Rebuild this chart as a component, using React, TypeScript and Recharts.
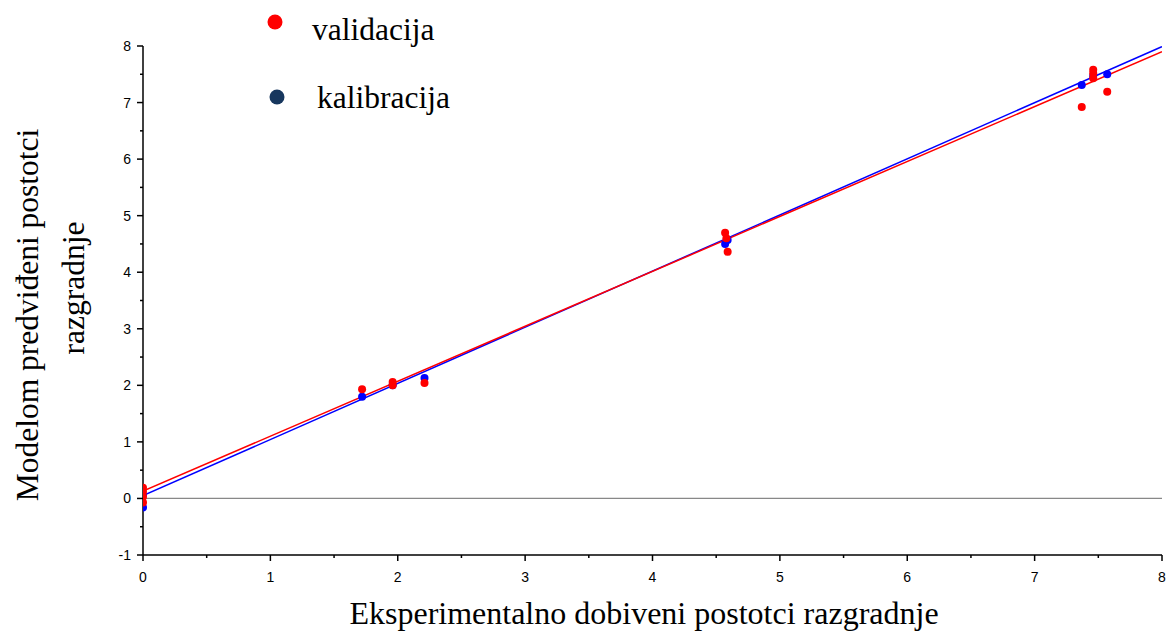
import React from 'react';
import { ComposedChart, Scatter, XAxis, YAxis, ReferenceLine } from 'recharts';

const validacija = [
  { x: 0, y: 0.19 }, { x: 0, y: 0.12 }, { x: 0, y: 0.03 }, { x: 0, y: -0.07 },
  { x: 1.72, y: 1.93 }, { x: 1.96, y: 2.06 }, { x: 1.96, y: 2.0 },
  { x: 2.21, y: 2.04 }, { x: 4.57, y: 4.7 }, { x: 4.58, y: 4.6 },
  { x: 4.59, y: 4.36 }, { x: 7.37, y: 6.92 }, { x: 7.46, y: 7.58 },
  { x: 7.46, y: 7.52 }, { x: 7.46, y: 7.43 }, { x: 7.57, y: 7.19 },
];
const kalibracija = [
  { x: 0, y: -0.16 }, { x: 0, y: 0.06 }, { x: 1.72, y: 1.8 },
  { x: 1.96, y: 2.0 }, { x: 2.21, y: 2.13 }, { x: 4.57, y: 4.5 },
  { x: 4.59, y: 4.57 }, { x: 7.37, y: 7.31 }, { x: 7.46, y: 7.47 },
  { x: 7.57, y: 7.5 },
];
const validacijaLine = [{ x: 0, y: 0.13 }, { x: 8, y: 7.9 }];
const kalibracijaLine = [{ x: 0, y: 0.05 }, { x: 8, y: 7.99 }];

const xTicks = [0, 0.5, 1, 1.5, 2, 2.5, 3, 3.5, 4, 4.5, 5, 5.5, 6, 6.5, 7, 7.5, 8];
const yTicks = [-1, -0.5, 0, 0.5, 1, 1.5, 2, 2.5, 3, 3.5, 4, 4.5, 5, 5.5, 6, 6.5, 7, 7.5, 8];

const legendLabels = ['validacija', 'kalibracija'];
const xTitle = 'Eksperimentalno dobiveni postotci razgradnje';
const yTitle = ['Modelom predviđeni postotci', 'razgradnje'];

const tickFont = "'Liberation Sans', Arial, sans-serif";
const serif = "'Liberation Serif', 'Times New Roman', serif";

const XTick = (props: any) => {
  const { x, y, payload } = props;
  const major = Number.isInteger(payload.value);
  return (
    <g>
      <line x1={x} x2={x} y1={y} y2={y + (major ? 6 : 3)} stroke="#000" strokeWidth={1.5} />
      {major && (
        <text x={x} y={y + 27} textAnchor="middle" fontSize={14} fontFamily={tickFont} fill="#000">
          {payload.value}
        </text>
      )}
    </g>
  );
};

const YTick = (props: any) => {
  const { x, y, payload } = props;
  const major = Number.isInteger(payload.value);
  return (
    <g>
      <line x1={x} x2={x - (major ? 6 : 3)} y1={y} y2={y} stroke="#000" strokeWidth={1.5} />
      {major && (
        <text x={x - 12} y={y + 5} textAnchor="end" fontSize={14} fontFamily={tickFont} fill="#000">
          {payload.value}
        </text>
      )}
    </g>
  );
};

const Dot = (color: string) => (props: any) => {
  const { cx, cy } = props;
  if (cx == null || cy == null) return <g />;
  return <circle cx={cx} cy={cy} r={4} fill={color} />;
};

const NoDot = () => <g />;

export default function App() {
  return (
    <div style={{ position: 'absolute', left: 0, top: 0, width: 1170, height: 633, background: '#fff' }}>
      <ComposedChart
        width={1170}
        height={633}
        margin={{ top: 46, right: 8, bottom: 48, left: 0 }}
      >
        <XAxis
          type="number"
          dataKey="x"
          domain={[0, 8]}
          ticks={xTicks}
          interval={0}
          tick={<XTick />}
          tickLine={false}
          tickSize={0}
          tickMargin={0}
          height={30}
          axisLine={{ stroke: '#000', strokeWidth: 1.5 }}
          allowDataOverflow
        />
        <YAxis
          type="number"
          dataKey="y"
          domain={[-1, 8]}
          ticks={yTicks}
          interval={0}
          tick={<YTick />}
          tickLine={false}
          tickSize={0}
          tickMargin={0}
          width={143}
          axisLine={{ stroke: '#000', strokeWidth: 1.5 }}
          allowDataOverflow
        />
        <ReferenceLine y={0} stroke="#888" strokeWidth={1.2} />
        <Scatter
          data={kalibracijaLine}
          line={{ stroke: '#0000ff', strokeWidth: 1.5 }}
          shape={<NoDot />}
          isAnimationActive={false}
        />
        <Scatter
          data={validacijaLine}
          line={{ stroke: '#ff0000', strokeWidth: 1.5 }}
          shape={<NoDot />}
          isAnimationActive={false}
        />
        <Scatter data={kalibracija} shape={Dot('#0000ff')} isAnimationActive={false} />
        <Scatter data={validacija} shape={Dot('#ff0000')} isAnimationActive={false} />
      </ComposedChart>
      <svg width={1170} height={633} style={{ position: 'absolute', left: 0, top: 0, pointerEvents: 'none' }}>
        <circle cx={275} cy={22} r={7.5} fill="#ff0000" />
        <circle cx={277} cy={97} r={7.5} fill="#17375e" />
        <text x={312} y={40} fontSize={31.5} fontFamily={serif} fill="#000">{legendLabels[0]}</text>
        <text x={317} y={108} fontSize={31.5} fontFamily={serif} fill="#000">{legendLabels[1]}</text>
        <text x={644} y={624} textAnchor="middle" fontSize={32} fontFamily={serif} fill="#000">{xTitle}</text>
        <text transform="translate(38,315) rotate(-90)" textAnchor="middle" fontSize={31.5} fontFamily={serif} fill="#000">{yTitle[0]}</text>
        <text transform="translate(84,288) rotate(-90)" textAnchor="middle" fontSize={31.5} fontFamily={serif} fill="#000">{yTitle[1]}</text>
      </svg>
    </div>
  );
}
